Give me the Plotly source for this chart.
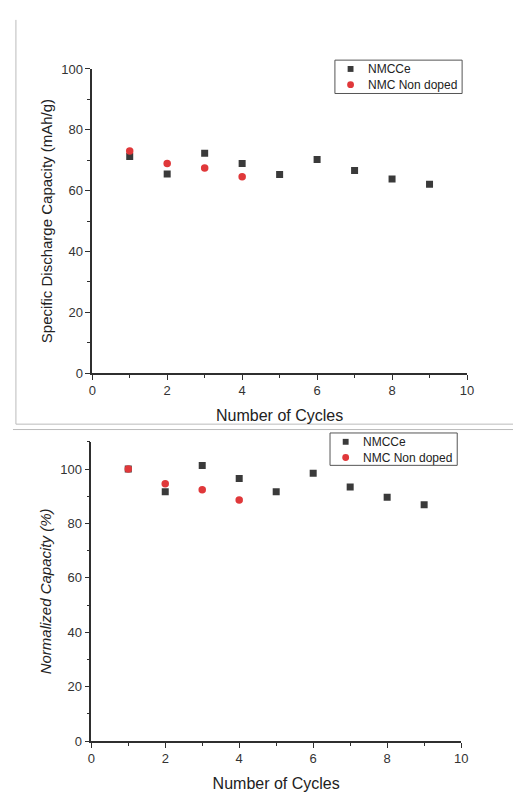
import plotly.graph_objects as go

cycles = [1, 2, 3, 4, 5, 6, 7, 8, 9]
cycles_nd = [1, 2, 3, 4]

cap_nmcce = [71.2, 65.5, 72.3, 68.9, 65.3, 70.2, 66.6, 63.8, 62.1]
cap_nondoped = [73.0, 68.9, 67.4, 64.6]

norm_nmcce = [100.0, 91.6, 101.3, 96.5, 91.6, 98.4, 93.4, 89.6, 86.9]
norm_nondoped = [100.0, 94.6, 92.4, 88.6]

name_a = "NMCCe"
name_b = "NMC Non doped"
x_title = "Number of Cycles"
y_title_top = "Specific Discharge Capacity (mAh/g)"
y_title_bottom = "<i>Normalized Capacity (%)</i>"

OFF = 8  # page body margin
W, H = 528 - 2 * OFF, 812 - 2 * OFF
sq_color = "#3a3a3a"
ci_color = "#e0383a"
axis_color = "#2f2f2f"
font_fam = "Liberation Sans, Arial, sans-serif"

fig = go.Figure()

fig.add_trace(go.Scatter(x=cycles, y=cap_nmcce, mode="markers", name=name_a,
                         marker=dict(symbol="square", size=7, color=sq_color),
                         xaxis="x", yaxis="y", showlegend=False))
fig.add_trace(go.Scatter(x=cycles_nd, y=cap_nondoped, mode="markers", name=name_b,
                         marker=dict(symbol="circle", size=7.5, color=ci_color),
                         xaxis="x", yaxis="y", showlegend=False))
fig.add_trace(go.Scatter(x=cycles, y=norm_nmcce, mode="markers", name=name_a,
                         marker=dict(symbol="square", size=7, color=sq_color),
                         xaxis="x2", yaxis="y2", showlegend=False))
fig.add_trace(go.Scatter(x=cycles_nd, y=norm_nondoped, mode="markers", name=name_b,
                         marker=dict(symbol="circle", size=7.5, color=ci_color),
                         xaxis="x2", yaxis="y2", showlegend=False))

def px_x(p):
    return (p - OFF) / W

def px_y(p):
    return 1 - (p - OFF) / H

common_axis = dict(
    showline=True, linecolor=axis_color, linewidth=1.5,
    showgrid=False, zeroline=False, ticks="outside", ticklen=5,
    tickwidth=1.2, tickcolor=axis_color,
    tickfont=dict(family=font_fam, size=13, color="#333333"),
    mirror=False,
)
minor_common = dict(ticks="outside", ticklen=3, tickwidth=1.2, tickcolor=axis_color)
title_font = dict(size=16, family=font_fam, color="#222222")
ytitle_font = dict(size=15, family=font_fam, color="#222222")

# panel frame lines (decorative, from the screenshot)
shapes = [
    dict(type="line", xref="paper", yref="paper", x0=px_x(12), x1=px_x(12),
         y0=px_y(13), y1=px_y(425), line=dict(color="#bbbbbb", width=1)),
    dict(type="line", xref="paper", yref="paper", x0=px_x(12), x1=1,
         y0=px_y(425), y1=px_y(425), line=dict(color="#bbbbbb", width=1)),
    dict(type="line", xref="paper", yref="paper", x0=px_x(9), x1=1,
         y0=px_y(430.5), y1=px_y(430.5), line=dict(color="#bbbbbb", width=1)),
]
annotations = []

def add_legend(left, top, right, bottom):
    shapes.append(dict(type="rect", xref="paper", yref="paper",
                       x0=px_x(left), x1=px_x(right), y0=px_y(bottom), y1=px_y(top),
                       line=dict(color="#555555", width=1), fillcolor="white"))
    mx = left + 16
    r1 = top + 9
    r2 = top + 25
    shapes.append(dict(type="rect", xref="paper", yref="paper",
                       x0=px_x(mx - 3), x1=px_x(mx + 3), y0=px_y(r1 + 3), y1=px_y(r1 - 3),
                       line=dict(width=0), fillcolor=sq_color))
    shapes.append(dict(type="circle", xref="paper", yref="paper",
                       x0=px_x(mx - 3.5), x1=px_x(mx + 3.5), y0=px_y(r2 + 3.5), y1=px_y(r2 - 3.5),
                       line=dict(width=0), fillcolor=ci_color))
    for txt, r in ((name_a, r1), (name_b, r2)):
        annotations.append(dict(text=txt, xref="paper", yref="paper", x=px_x(left + 32), y=px_y(r),
                                xanchor="left", yanchor="middle", showarrow=False,
                                font=dict(size=12, family=font_fam, color="#222222")))

add_legend(338, 54, 468, 88)
add_legend(333, 434, 463, 467)

fig.update_layout(
    width=W, height=H,
    margin=dict(l=0, r=0, t=0, b=0),
    paper_bgcolor="white", plot_bgcolor="white",
    font=dict(family=font_fam, color="#333333"),
    showlegend=False,
    xaxis=dict(domain=[px_x(90), px_x(473)], anchor="y", range=[0, 10],
               tickvals=[0, 2, 4, 6, 8, 10], minor=dict(dtick=1, **minor_common),
               title=dict(text=x_title, font=title_font, standoff=12),
               **common_axis),
    yaxis=dict(domain=[px_y(373), px_y(63)], anchor="x", range=[0, 100],
               tickvals=[0, 20, 40, 60, 80, 100], minor=dict(dtick=10, **minor_common),
               title=dict(text=y_title_top, font=ytitle_font, standoff=5),
               **common_axis),
    xaxis2=dict(domain=[px_x(89), px_x(467)], anchor="y2", range=[0, 10],
                tickvals=[0, 2, 4, 6, 8, 10], minor=dict(dtick=1, **minor_common),
                title=dict(text=x_title, font=title_font, standoff=12),
                **common_axis),
    yaxis2=dict(domain=[px_y(748), px_y(443)], anchor="x2", range=[0, 110],
                tickvals=[0, 20, 40, 60, 80, 100], minor=dict(dtick=10, **minor_common),
                title=dict(text=y_title_bottom, font=ytitle_font, standoff=5),
                **common_axis),
    shapes=shapes,
    annotations=annotations,
)

fig.write_html("out.html")
